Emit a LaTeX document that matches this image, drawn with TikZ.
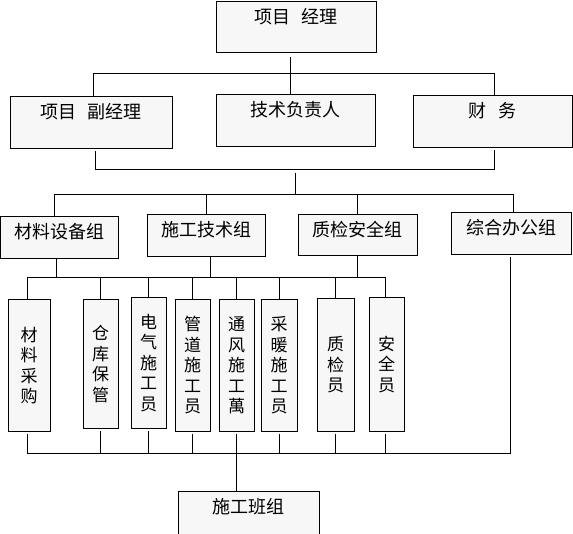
\documentclass[tikz,border=0pt]{standalone}
\usepackage{fontspec}
\newfontfamily\cjk{Noto Sans CJK SC}
\usepackage{tikz}
\definecolor{boxfill}{HTML}{F7F7F7}

\begin{document}
\begin{tikzpicture}[x=1pt,y=-1pt,line width=0.8pt,
      box/.style={draw,fill=boxfill,anchor=north,inner sep=4pt,
        font=\cjk\fontsize{18}{20}\selectfont,text height=18.5pt,text depth=#1},
      vbox/.style={draw,fill=boxfill,anchor=north,align=center,inner sep=2pt,
        font=\cjk\fontsize{17}{20.5}\selectfont,minimum height=#1}]
    \useasboundingbox (0,0) rectangle (573,534);
    \node[box=24.5pt,minimum width=160] (manager) at (296,1) {项目\hspace{.6em}经理};
    \node[box=25.5pt,minimum width=162] (deputy) at (91,96) {项目\hspace{.6em}副经理};
    \node[box=25.5pt,minimum width=159] (techlead) at (295.5,94) {技术负责人};
    \node[box=25.5pt,minimum width=159] (finance) at (492.5,95) {财\hspace{.7em}务};
    \node[box=15.5pt,minimum width=118] (material) at (59.5,216) {材料设备组};
    \node[box=15.5pt,minimum width=118] (construct) at (206,214) {施工技术组};
    \node[box=14.5pt,minimum width=119] (quality) at (357.5,214) {质检安全组};
    \node[box=15.5pt,minimum width=120] (office) at (511,212) {综合办公组};
    \node[vbox=132,minimum width=42] (purchase) at (29,299) {材\\料\\采\\购};
    \node[vbox=129,minimum width=35] (store) at (100.5,299) {仓\\库\\保\\管};
    \node[vbox=131,minimum width=35] (elec) at (148.5,297) {电\\气\\施\\工\\员};
    \node[vbox=132,minimum width=35] (pipe) at (192.5,299) {管\\道\\施\\工\\员};
    \node[vbox=132,minimum width=35] (vent) at (236.5,299) {通\\风\\施\\工\\萬};
    \node[vbox=132,minimum width=36] (heat) at (279,299) {采\\暖\\施\\工\\员};
    \node[vbox=133,minimum width=37] (inspect) at (335.5,298) {质\\检\\员};
    \node[vbox=134,minimum width=35] (safety) at (386.5,297) {安\\全\\员};
    \node[box=28.5pt,minimum width=141] (team) at (248.5,491) {施工班组};
    \coordinate (busA) at (0,73);
    \coordinate (busB) at (295,169);
    \coordinate (busC) at (295,194);
    \coordinate (busD) at (0,277);
    \coordinate (busE) at (0,453);
    \draw ([xshift=-6pt,yshift=-4pt]manager.south) -- ([xshift=-6pt]manager.south |- techlead.north);
    \draw ([xshift=2pt]deputy.north) -- ([xshift=2pt]deputy.north |- busA) -- ([xshift=1.5pt]finance.north |- busA) -- ([xshift=1.5pt]finance.north);
    \draw ([xshift=4pt,yshift=-2pt]deputy.south) -- ([xshift=4pt]deputy.south |- busB) -- ([xshift=1.5pt]finance.south |- busB) -- ([xshift=1.5pt,yshift=-2pt]finance.south);
    \draw ([yshift=-4pt]busB) -- (busC);
    \draw ([xshift=-5.5pt]material.north) -- ([xshift=-5.5pt]material.north |- busC) -- ([xshift=2pt]office.north |- busC) -- ([xshift=2pt]office.north);
    \draw (construct.north |- busC) -- (construct.north);
    \draw (quality.north |- busC) -- (quality.north);
    \draw ([xshift=-3.5pt]material.south) -- ([xshift=-3.5pt]material.south |- busD);
    \draw ([xshift=4pt]construct.south) -- ([xshift=4pt]construct.south |- busD);
    \draw (quality.south) -- (quality.south |- busD);
    \draw ([xshift=-2pt]purchase.north) -- ([xshift=-2pt]purchase.north |- busD) -- ([xshift=-1.5pt]safety.north |- busD) -- ([xshift=-1.5pt]safety.north);
    \foreach \b in {store,elec,pipe,vent,heat,inspect}
      \draw (\b.north |- busD) -- (\b.north);
    \draw ([xshift=-1pt,yshift=-2pt]office.south) -- ([xshift=-1pt]office.south |- busE) -- ([xshift=-2pt]purchase.south |- busE) -- ([xshift=-2pt,yshift=-2pt]purchase.south);
    \foreach \b in {store,elec,pipe,vent,heat,inspect}
      \draw ([yshift=-2pt]\b.south) -- (\b.south |- busE);
    \draw ([xshift=-1.5pt,yshift=-2pt]safety.south) -- ([xshift=-1.5pt]safety.south |- busE);
    \draw (vent.south |- busE) -- (vent.south |- team.north);
  \end{tikzpicture}
\end{document}
